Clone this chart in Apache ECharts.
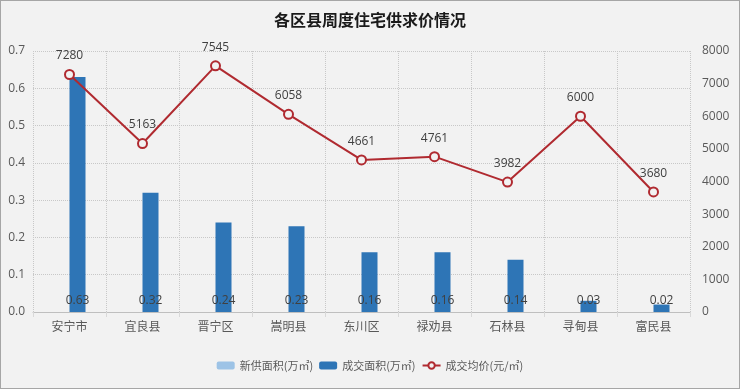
<!DOCTYPE html>
<html><head><meta charset="utf-8">
<script src="https://cdn.jsdelivr.net/npm/echarts@6/dist/echarts.min.js"></script>
<style>
html,body{margin:0;padding:0;background:#f2f2f2;}
#c{width:740px;height:389px;box-sizing:border-box;border:1px solid #a6a6a6;}
</style></head>
<body><div id="c"></div>
<script>
const categories = ['安宁市','宜良县','晋宁区','嵩明县','东川区','禄劝县','石林县','寻甸县','富民县'];
const newSupply = [null,null,null,null,null,null,null,null,null];
const dealArea = [0.63,0.32,0.24,0.23,0.16,0.16,0.14,0.03,0.02];
const avgPrice = [7280,5163,7545,6058,4661,4761,3982,6000,3680];

const chart = echarts.init(document.getElementById('c'));
const cjk = '"Noto Sans CJK SC","Noto Sans",sans-serif';
chart.setOption({
  backgroundColor:'#f2f2f2',
  textStyle:{fontFamily:cjk},
  title:{text:'各区县周度住宅供求价情况',left:'center',top:6,
    textStyle:{fontSize:16,fontWeight:'bold',color:'#1a1a1a',fontFamily:cjk}},
  legend:{bottom:12,left:'center',itemWidth:18,itemHeight:8,itemGap:6,
    textStyle:{fontSize:11,color:'#595959'},
    data:['新供面积(万㎡)','成交面积(万㎡)','成交均价(元/㎡)']},
  grid:{left:32,right:49,top:50,bottom:76,containLabel:false},
  xAxis:{type:'category',data:categories,
    axisLine:{lineStyle:{color:'#bfbfbf'}},
    axisTick:{show:true,alignWithLabel:false,lineStyle:{color:'#d9d9d9'}},
    axisLabel:{color:'#595959',fontSize:12,margin:8},
    splitLine:{show:true,lineStyle:{color:'#c8c8c8',type:'dotted'}}},
  yAxis:[
    {type:'value',min:0,max:0.7,interval:0.1,position:'left',
     axisLabel:{color:'#595959',fontSize:12,margin:8,formatter:v=>v.toFixed(1),fontFamily:'"Open Sans",sans-serif'},
     axisLine:{show:false},axisTick:{show:false},
     splitLine:{show:true,lineStyle:{color:'#c8c8c8',type:'dotted'}}},
    {type:'value',min:0,max:8000,interval:1000,position:'right',
     axisLabel:{color:'#595959',fontSize:12,margin:12,formatter:v=>String(v),fontFamily:'"Open Sans",sans-serif'},
     axisLine:{show:false},axisTick:{show:false},splitLine:{show:false}}
  ],
  series:[
    {name:'新供面积(万㎡)',type:'bar',data:newSupply,barWidth:16,barGap:'0%',
     itemStyle:{color:'#9dc3e6'}},
    {name:'成交面积(万㎡)',type:'bar',data:dealArea,barWidth:16,barGap:'0%',
     itemStyle:{color:'#2e75b6'},
     label:{show:true,position:'insideBottom',distance:5,color:'#404040',fontSize:12,
       fontFamily:'"Open Sans",sans-serif'}},
    {name:'成交均价(元/㎡)',type:'line',yAxisIndex:1,data:avgPrice,
     symbol:'circle',symbolSize:9,
     lineStyle:{color:'#b02a30',width:2},
     itemStyle:{color:'#f2f2f2',borderColor:'#b02a30',borderWidth:2},
     label:{show:true,position:'top',distance:7,color:'#404040',fontSize:12,
       fontFamily:'"Open Sans",sans-serif'}}
  ]
});
</script></body></html>
